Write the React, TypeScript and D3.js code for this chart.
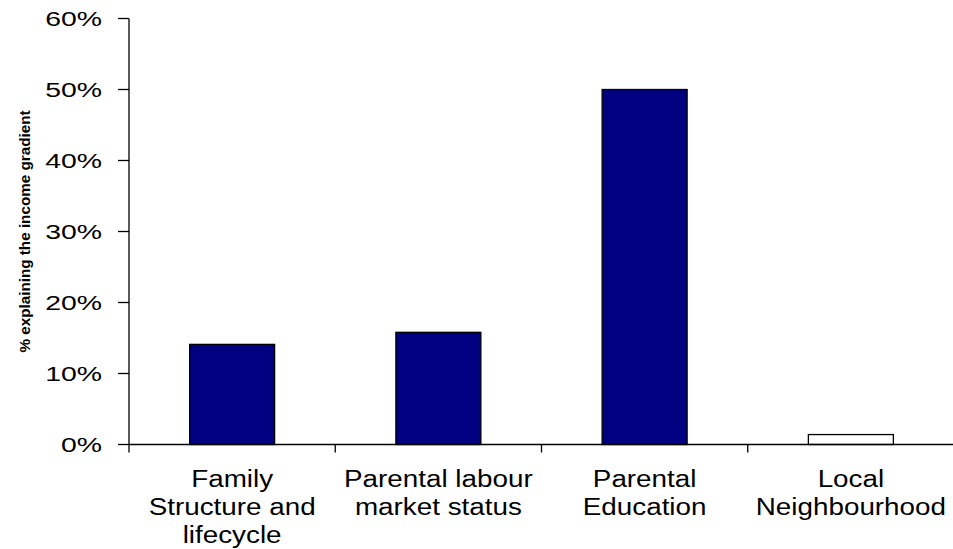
import { useEffect, useRef } from 'react';
import * as d3 from 'd3';

const categories = ['Family Structure and lifecycle', 'Parental labour market status', 'Parental Education', 'Local Neighbourhood'];
const categoryLines = [
  ['Family', 'Structure and', 'lifecycle'],
  ['Parental labour', 'market status'],
  ['Parental', 'Education'],
  ['Local', 'Neighbourhood'],
];
const values = [0.141, 0.158, 0.5, 0.014];
const hollow = [false, false, false, true];
const yTicks = [0, 0.1, 0.2, 0.3, 0.4, 0.5, 0.6];

export default function App() {
  const svgRef = useRef<SVGSVGElement>(null);

  useEffect(() => {
    if (!svgRef.current) return;
    const width = 953;
    const height = 549;
    const font = "'Liberation Sans', Arial, sans-serif";

    d3.select(svgRef.current).selectAll('*').remove();
    const svg = d3.select(svgRef.current).attr('width', width).attr('height', height);

    const x = d3
      .scaleBand<string>()
      .domain(categories)
      .range([129, 954])
      .paddingInner(0.588)
      .paddingOuter(0.294);

    const y = d3.scaleLinear().domain([0, 0.6]).range([444.5, 18.5]);

    // Bars
    svg
      .selectAll('rect.bar')
      .data(categories)
      .enter()
      .append('rect')
      .attr('class', 'bar')
      .attr('x', (d) => x(d)!)
      .attr('y', (_, i) => y(values[i]))
      .attr('width', x.bandwidth())
      .attr('height', (_, i) => y(0) - y(values[i]))
      .attr('fill', (_, i) => (hollow[i] ? '#ffffff' : '#000080'))
      .attr('stroke', '#000')
      .attr('stroke-width', 1.3);

    // Y axis
    svg
      .append('line')
      .attr('x1', 129)
      .attr('x2', 129)
      .attr('y1', y(0.6))
      .attr('y2', y(0))
      .attr('stroke', '#000')
      .attr('stroke-width', 1.3);

    yTicks.forEach((t) => {
      svg
        .append('line')
        .attr('x1', 118)
        .attr('x2', 129)
        .attr('y1', y(t))
        .attr('y2', y(t))
        .attr('stroke', '#000')
        .attr('stroke-width', 1.3);
      svg
        .append('text')
        .attr('transform', `translate(102,${y(t) + 7.3}) scale(1.42,1)`)
        .attr('text-anchor', 'end')
        .style('font-family', font)
        .style('font-size', '20px')
        .text(`${Math.round(t * 100)}%`);
    });

    // X axis
    svg
      .append('line')
      .attr('x1', 129)
      .attr('x2', width)
      .attr('y1', y(0))
      .attr('y2', y(0))
      .attr('stroke', '#000')
      .attr('stroke-width', 1.3);

    const edge = (x.step() * x.paddingInner()) / 2;
    categories.forEach((c, i) => {
      const bx = x(c)! - edge;
      svg
        .append('line')
        .attr('x1', bx)
        .attr('x2', bx)
        .attr('y1', y(0))
        .attr('y2', y(0) + 8)
        .attr('stroke', '#000')
        .attr('stroke-width', 1.3);

      const cx = x(c)! + x.bandwidth() / 2;
      categoryLines[i].forEach((line, j) => {
        svg
          .append('text')
          .attr('transform', `translate(${cx},${486.5 + j * 28}) scale(1.21,1)`)
          .attr('text-anchor', 'middle')
          .style('font-family', font)
          .style('font-size', '23px')
          .text(line);
      });
    });

    // Y axis title
    svg
      .append('text')
      .attr('transform', 'translate(30,231.5) rotate(-90) scale(1.09,1)')
      .attr('text-anchor', 'middle')
      .style('font-family', font)
      .style('font-size', '14px')
      .style('font-weight', 'bold')
      .text('% explaining the income gradient');
  }, []);

  return (
    <div style={{ position: 'absolute', left: 0, top: 0, background: '#fff' }}>
      <svg ref={svgRef}></svg>
    </div>
  );
}
